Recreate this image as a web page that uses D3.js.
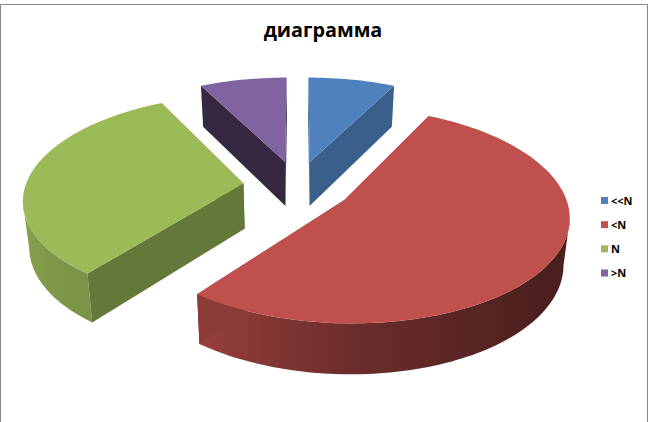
<!DOCTYPE html>
<html><head><meta charset="utf-8">
<script src="https://cdn.jsdelivr.net/npm/d3@7"></script>
<style>html,body{margin:0;padding:0;background:#fff}svg{display:block}</style>
</head><body><div id="c"></div>
<script>
const categories = ["<<N", "<N", "N", ">N"];
const values = [7.5, 53, 32, 7.5];
const topColors = ["#4f81bd", "#c0504d", "#9bbb59", "#8064a2"];
const sideColors = ["#3a5f8a", "#8c3b39", "#64783a", "#352840"];
const titleText = "диаграмма";

const W = 649, H = 422;
const svg = d3.select("#c").append("svg").attr("width", W).attr("height", H);
const defs = svg.append("defs");
svg.append("path").attr("d", `M0.5 ${H} V4.5 H647.5 V${H}`).attr("fill", "none").attr("stroke", "#868686").attr("stroke-width", 1);

// perspective model of the pie plane
const cx = 297.5, cy = 186, a = 218, b = 102.2, k = 0.138, explode = 0.25;
function proj(X, Y) { const w = 1 + k * Y; return [cx + a * X / w, cy - b * Y / w]; }
function drop(p) {
  return [cx + (p[0] - cx) * 0.977, p[1] + 37.4 + 0.0417 * p[1]];
}
const shade = d3.scaleLinear()
  .domain([0, 90, 125, 150, 180, 215, 270, 330, 360])
  .range([0.5, 0.39, 0.385, 0.45, 0.56, 0.78, 0.9, 0.8, 0.5]).clamp(true);

const arcs = d3.pie().value(d => d).sort(null)(values);
const line = d3.line();
const g = svg.append("g");

arcs.map((d, i) => ({ d, i })).sort((p, q) => [3, 0, 2, 1].indexOf(p.i) - [3, 0, 2, 1].indexOf(q.i)).forEach(({ d, i }) => {
  const mid = (d.startAngle + d.endAngle) / 2;
  const ox = explode * Math.sin(mid), oy = explode * Math.cos(mid);
  const at = t => proj(ox + Math.sin(t), oy + Math.cos(t));
  const apex = proj(ox, oy);
  const steps = d3.range(0, 1.0001, 1 / Math.max(8, Math.round((d.endAngle - d.startAngle) * 40)));
  const ts = steps.map(s => d.startAngle + s * (d.endAngle - d.startAngle));
  const sl = g.append("g");
  // outer rim with a horizontal gradient: front part, up to the silhouette point
  let front = ts.filter(t => Math.cos(t) < 0.3);
  if (front.length > 1) {
    const ext = d3.greatestIndex(front, t => Math.abs(at(t)[0] - cx));
    front = mid < Math.PI ? front.slice(ext) : front.slice(0, ext + 1);
    const col = d3.rgb(topColors[i]);
    const xs = front.map(t => at(t)[0]);
    const x0 = d3.min(xs), x1 = d3.max(xs);
    const grad = defs.append("linearGradient").attr("id", "rim" + i).attr("gradientUnits", "userSpaceOnUse")
      .attr("x1", x0).attr("x2", x1).attr("y1", 0).attr("y2", 0);
    front.slice().sort((p, q) => at(p)[0] - at(q)[0]).forEach(t => {
      const f = shade(t * 180 / Math.PI);
      grad.append("stop").attr("offset", (at(t)[0] - x0) / (x1 - x0))
        .attr("stop-color", d3.rgb(col.r * f, col.g * f, col.b * f).formatHex());
    });
    const upper = front.map(at);
    const lower = upper.map(drop).reverse();
    sl.append("path").attr("d", line([...upper, ...lower]) + "Z").attr("fill", `url(#rim${i})`);
  }
  // radial side walls
  [d.startAngle, d.endAngle].forEach(t => {
    const e = at(t);
    sl.append("path").attr("d", line([apex, e, drop(e), drop(apex)]) + "Z").attr("fill", sideColors[i]);
  });
  // top face
  sl.append("path").attr("d", line([apex, ...ts.map(at)]) + "Z").attr("fill", topColors[i]);
});

svg.append("text").attr("x", 323).attr("y", 37).attr("text-anchor", "middle")
  .attr("font-family", "'Open Sans'").attr("font-weight", 700).attr("font-size", 19.8).attr("fill", "#000").text(titleText);

const legendY = d3.scalePoint().domain(categories).range([201, 273.5]);
const lg = svg.append("g").selectAll("g").data(categories).join("g")
  .attr("transform", c => `translate(601,${legendY(c)})`);
lg.append("rect").attr("x", 0).attr("y", -4).attr("width", 7).attr("height", 7).attr("fill", (c, i) => topColors[i]);
lg.append("text").attr("x", 10).attr("y", 3.5).attr("font-family", "'Open Sans'").attr("font-weight", 700)
  .attr("font-size", 11).attr("fill", "#000").text(c => c);
</script></body></html>
